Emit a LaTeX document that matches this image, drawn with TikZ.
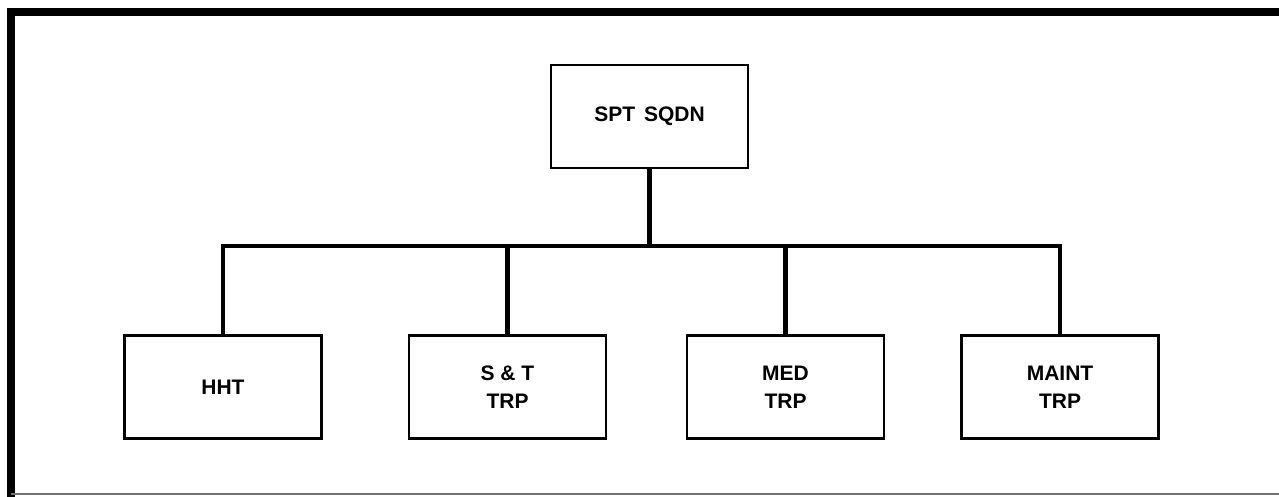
\documentclass[tikz,border=0pt]{standalone}
\usepackage{fontspec}
\setmainfont{Liberation Sans}
\usepackage{tikz}
\usetikzlibrary{positioning,calc}

\tikzset{
    unit/.style={draw, line width=2.5pt, minimum width=197pt, minimum height=103pt,
        align=center, font=\bfseries\fontsize{21}{28}\selectfont},
    link/.style={line width=4.5pt}
}

\begin{document}
\begin{tikzpicture}[x=1pt, y=-1pt]
    \useasboundingbox (0,0) rectangle (1279,497);

    % Frame
    \draw[line width=8pt] (11,497) -- (11,12) -- (1279,12);
    \draw[black!55, line width=1.5pt] (11,494) -- (1279,494);

    % Units
    \node[unit] (sqdn) at (649.5,116.5) {SPT\hspace{9pt}SQDN};
    \node[unit] (hht) at (223,387) {HHT};
    \node[unit] (st) at (507.5,387) {S \& T\\TRP};
    \node[unit] (med) at (785.5,387) {MED\\TRP};
    \node[unit] (maint) at (1060,387) {MAINT\\TRP};

    % Links
    \coordinate (bus) at (649.5,246);
    \draw[link] (sqdn.south) -- (bus);
    \draw[link] (hht.north) |- (bus) -| (maint.north);
    \draw[link] (st.north) -- (st.north |- bus);
    \draw[link] (med.north) -- (med.north |- bus);
\end{tikzpicture}
\end{document}
